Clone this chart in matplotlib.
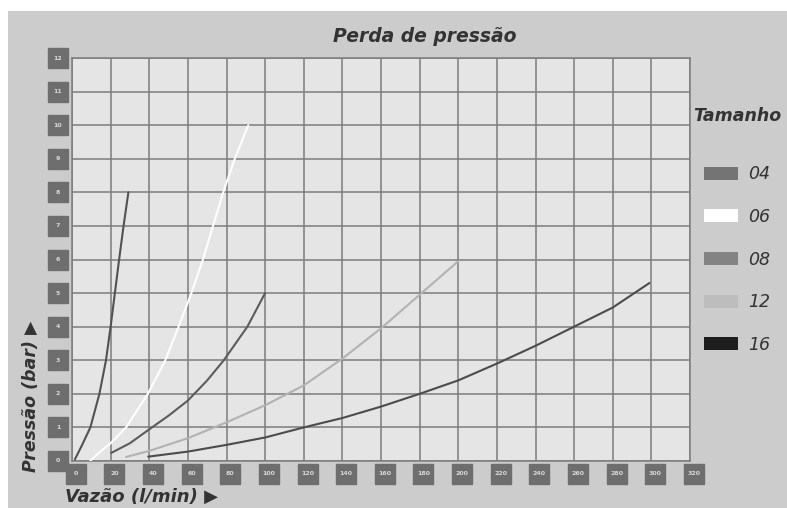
import matplotlib.pyplot as plt
from matplotlib.patches import Patch, Rectangle

# values (vazao l/min, pressao bar)
x04 = [1.5, 5, 9.5, 14.2, 17.6, 20.0, 22.2, 24.4, 26.7, 29.2]
y04 = [0.05, 0.45, 1, 2, 3, 4, 5, 6, 7, 8]

x06 = [9.4, 13.4, 20, 28, 39.3, 48.3, 55.2, 61.8, 67.8, 73, 78.3, 84.3, 91.3]
y06 = [0.0, 0.22, 0.53, 1, 2, 3, 4, 5, 6, 7, 8, 9, 10]

x08 = [20.3, 30, 41.4, 50, 60, 70, 78.6, 90.8, 100]
y08 = [0.24, 0.53, 1, 1.35, 1.8, 2.4, 3, 4, 5]

x12 = [28, 40, 60, 80, 100, 120, 140, 160, 180, 200]
y12 = [0.12, 0.3, 0.68, 1.15, 1.66, 2.25, 3.05, 3.95, 4.95, 5.95]

x16 = [39.5, 60, 80, 100, 120, 140, 160, 180, 200, 220, 240, 260, 280, 299]
y16 = [0.13, 0.28, 0.48, 0.7, 1.0, 1.28, 1.62, 2.0, 2.4, 2.9, 3.43, 4.0, 4.57, 5.3]

sizes = ['04', '06', '08', '12', '16']
line_colors = ['#525252', '#ffffff', '#5c5c5c', '#b2b2b2', '#4c4c4c']
swatch_colors = ['#747474', '#ffffff', '#838383', '#bdbdbd', '#1e1e1e']

x_ticks = list(range(0, 321, 20))
y_ticks = list(range(0, 13))

fam = ['DejaVu Sans']
txt = '#333333'

fig = plt.figure(figsize=(7.87, 5.08), dpi=100, facecolor='white')
# gray panel, leaves the thin white scan margin on top and left
fig.add_artist(Rectangle((8 / 787, 0), 1, 1 - 11 / 508, transform=fig.transFigure,
                         facecolor='#cccccc', edgecolor='none', zorder=0))

ax = fig.add_axes([72 / 787, 1 - 461 / 508, 618 / 787, 403 / 508])
ax.set_facecolor('#e5e5e5')
ax.set_xlim(0, 320)
ax.set_ylim(0, 12)
ax.set_xticks(x_ticks)
ax.set_yticks(y_ticks)
ax.grid(True, color='#7c7c7c', linewidth=1.1)
ax.tick_params(length=0, labelbottom=False, labelleft=False)
for s in ax.spines.values():
    s.set_color('#7c7c7c')
    s.set_linewidth(1.1)

for xs, ys, c in zip([x04, x06, x08, x12, x16], [y04, y06, y08, y12, y16], line_colors):
    ax.plot(xs, ys, color=c, linewidth=1.5, solid_capstyle='round', zorder=3)

# tick labels in little dark squares
ytr = ax.get_yaxis_transform()
xtr = ax.get_xaxis_transform()
for v in y_ticks:
    ax.plot([-0.0226], [v], marker='s', markersize=15, color='#6e6e6e',
            transform=ytr, clip_on=False, zorder=4)
    ax.text(-0.0226, v, str(v), transform=ytr, ha='center', va='center',
            fontsize=4.5, color='#d8d8d8', fontweight='bold', zorder=5)
for v in x_ticks:
    ax.plot([v + 2], [-0.032], marker='s', markersize=15, color='#6e6e6e',
            transform=xtr, clip_on=False, zorder=4)
    ax.text(v + 2, -0.032, str(v), transform=xtr, ha='center', va='center',
            fontsize=4.5, color='#d8d8d8', fontweight='bold', zorder=5)

fig.text(425 / 787, 1 - 36 / 508, 'Perda de pressão', ha='center', va='center',
         fontsize=13.5, style='italic', fontweight='bold', color=txt, family=fam)
fig.text(31 / 787, 1 - 396 / 508, 'Pressão (bar) ▶', rotation=90, ha='center', va='center',
         fontsize=12.5, style='italic', fontweight='bold', color=txt, family=fam)
fig.text(65 / 787, 1 - 497 / 508, 'Vazão (l/min) ▶', ha='left', va='center',
         fontsize=13, style='italic', fontweight='bold', color=txt, family=fam)

handles = [Patch(facecolor=c, edgecolor='none') for c in swatch_colors]
leg = fig.legend(handles, sizes, loc='upper left', bbox_to_anchor=(686 / 787, 1 - 100 / 508),
                 frameon=False, title='Tamanho', handlelength=2.0, handleheight=0.8,
                 labelspacing=1.42, handletextpad=0.6, borderaxespad=0,
                 prop={'family': fam, 'style': 'italic', 'size': 12.5})
leg.get_title().set_fontstyle('italic')
leg.get_title().set_fontweight('bold')
leg.get_title().set_fontsize(12.5)
leg.get_title().set_color(txt)
leg._legend_box.sep = 29
for t in leg.get_texts():
    t.set_color(txt)

fig.savefig('out.png', dpi=100, facecolor=fig.get_facecolor())
